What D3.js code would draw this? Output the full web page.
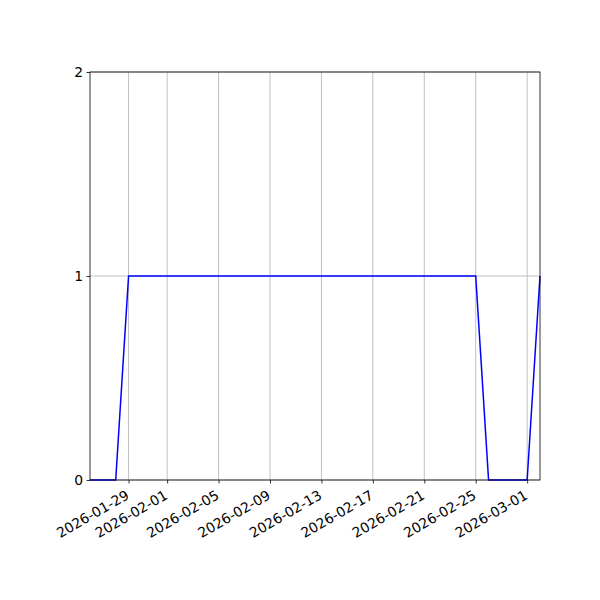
<!DOCTYPE html>
<html>
<head>
<meta charset="utf-8">
<script src="https://cdn.jsdelivr.net/npm/d3@7"></script>
<style>
  body { margin: 0; background: #fff; }
  text { font-family: "DejaVu Sans", sans-serif; font-size: 13.9px; fill: #000; }
</style>
</head>
<body>
<div id="chart"></div>
<script>
// daily values, 2026-01-26 .. 2026-03-02
var dates = ["2026-01-26", "2026-01-27", "2026-01-28", "2026-01-29", "2026-01-30", "2026-01-31",
  "2026-02-01", "2026-02-02", "2026-02-03", "2026-02-04", "2026-02-05", "2026-02-06", "2026-02-07",
  "2026-02-08", "2026-02-09", "2026-02-10", "2026-02-11", "2026-02-12", "2026-02-13", "2026-02-14",
  "2026-02-15", "2026-02-16", "2026-02-17", "2026-02-18", "2026-02-19", "2026-02-20", "2026-02-21",
  "2026-02-22", "2026-02-23", "2026-02-24", "2026-02-25", "2026-02-26", "2026-02-27", "2026-02-28",
  "2026-03-01", "2026-03-02"];
var values = [0, 0, 0, 1, 1, 1,
  1, 1, 1, 1, 1, 1, 1,
  1, 1, 1, 1, 1, 1, 1,
  1, 1, 1, 1, 1, 1, 1,
  1, 1, 1, 1, 0, 0, 0,
  0, 1];
var x_tick_labels = ["2026-01-29", "2026-02-01", "2026-02-05", "2026-02-09", "2026-02-13",
  "2026-02-17", "2026-02-21", "2026-02-25", "2026-03-01"];
var y_ticks = [0, 1, 2];

var parse = d3.utcParse("%Y-%m-%d");
var data = dates.map(function(d, i) { return { date: parse(d), value: values[i] }; });

var width = 600, height = 600;
var margin = { top: 72, right: 60, bottom: 120, left: 90 };
var inner_w = width - margin.left - margin.right;
var inner_h = height - margin.top - margin.bottom;

var svg = d3.select("#chart").append("svg")
    .attr("width", width)
    .attr("height", height);

var g = svg.append("g")
    .attr("transform", "translate(" + margin.left + "," + margin.top + ")");

var x = d3.scaleUtc()
    .domain(d3.extent(data, function(d) { return d.date; }))
    .range([0, inner_w]);

var y = d3.scaleLinear()
    .domain([0, 2])
    .range([inner_h, 0]);

var tick_dates = x_tick_labels.map(parse);

// grid
g.append("g").selectAll("line.vgrid")
  .data(tick_dates)
  .enter().append("line")
    .attr("x1", function(d) { return x(d); })
    .attr("x2", function(d) { return x(d); })
    .attr("y1", 0)
    .attr("y2", inner_h)
    .attr("stroke", "#b0b0b0")
    .attr("stroke-width", 0.8);

g.append("g").selectAll("line.hgrid")
  .data(y_ticks)
  .enter().append("line")
    .attr("x1", 0)
    .attr("x2", inner_w)
    .attr("y1", function(d) { return y(d); })
    .attr("y2", function(d) { return y(d); })
    .attr("stroke", "#b0b0b0")
    .attr("stroke-width", 0.8);

// line
var line = d3.line()
    .x(function(d) { return x(d.date); })
    .y(function(d) { return y(d.value); });

g.append("path")
    .datum(data)
    .attr("fill", "none")
    .attr("stroke", "blue")
    .attr("stroke-width", 1.5)
    .attr("d", line);

// axes
var x_axis = d3.axisBottom(x)
    .tickValues(tick_dates)
    .tickFormat(d3.utcFormat("%Y-%m-%d"))
    .tickSizeOuter(0)
    .tickSize(3.5)
    .tickPadding(3.5);

var xg = g.append("g")
    .attr("transform", "translate(0," + inner_h + ")")
    .call(x_axis);

xg.select(".domain").remove();
xg.selectAll("line").attr("stroke", "#000").attr("stroke-width", 0.8);
xg.selectAll("text")
    .attr("font-family", null)
    .attr("font-size", null)
    .attr("y", null)
    .attr("dy", null)
    .attr("text-anchor", "end")
    .attr("transform", "translate(1,18) rotate(-30)");

var y_axis = d3.axisLeft(y)
    .tickValues(y_ticks)
    .tickFormat(d3.format("d"))
    .tickSizeOuter(0)
    .tickSize(3.5)
    .tickPadding(3.5);

var yg = g.append("g").call(y_axis);
yg.select(".domain").remove();
yg.selectAll("line").attr("stroke", "#000").attr("stroke-width", 0.8);
yg.selectAll("text").attr("font-family", null).attr("font-size", null);

// frame
g.append("rect")
    .attr("x", 0)
    .attr("y", 0)
    .attr("width", inner_w)
    .attr("height", inner_h)
    .attr("fill", "none")
    .attr("stroke", "#000")
    .attr("stroke-width", 0.8);
</script>
</body>
</html>
